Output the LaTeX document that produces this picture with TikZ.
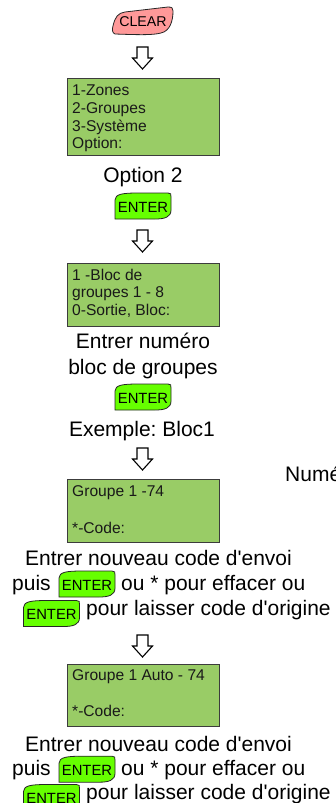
\documentclass[tikz,border=0pt]{standalone}
\usepackage{fontspec}
\setmainfont{Liberation Sans}
\frenchspacing
\definecolor{lcdgreen}{RGB}{153,204,102}
\definecolor{entergreen}{RGB}{102,255,0}
\definecolor{clearpink}{RGB}{255,153,153}
\definecolor{boxline}{RGB}{60,60,60}
\newcommand\apos{\textquotesingle}
\tikzset{
  lcd/.style={draw=boxline, line width=0.9pt, fill=lcdgreen},
  lcdtext/.style={font=\fontsize{15.6}{17.7}\selectfont, anchor=base west, inner sep=0pt, text=black!90},
  maintext/.style={font=\fontsize{21}{25}\selectfont, inner sep=0pt, text=black},
  keyline/.style={draw=black!85, line width=0.8pt},
  keytext/.style={font=\fontsize{14.8}{16}\selectfont, inner sep=0pt, anchor=base, text=black},
  arrowline/.style={draw=black, line width=1.1pt, fill=white, line join=miter},
  hollow arrow/.pic={\path[arrowline] (-5.5,0) -- (5.5,0) -- (5.5,11) -- (10,11) -- (0,22) -- (-10,11) -- (-5.5,11) -- cycle;}
}
\newcommand\enterkey[3]{%
  \begin{scope}[shift={(#2,#3)}]
    \path[keyline, fill=entergreen] (-28,13) -- (-28,-6) .. controls (-28,-12) and (-20,-13) .. (-5,-13) -- (25,-13) .. controls (28,-13) and (28,-12) .. (28,-9) -- (28,4) .. controls (28,11) and (22,13) .. (12,13) -- cycle;
    \node[keytext] (#1) at (0,6) {ENTER};
  \end{scope}}
\begin{document}
\begin{tikzpicture}[x=1pt,y=-1pt]
\useasboundingbox (0,0) rectangle (335,803);
\clip (0,0) rectangle (335,803);

% CLEAR key
\begin{scope}[shift={(143,21)}]
  \path[keyline, fill=clearpink] (-28,13) .. controls (-31,12) and (-31,8) .. (-30,5) .. controls (-28,-4) and (-25,-8) .. (-18,-9) -- (25,-14) .. controls (29,-14) and (30,-13) .. (30,-10) .. controls (30,0) and (27,10) .. (18,12) .. controls (10,14) and (0,14) .. (-28,13) -- cycle;
  \node[keytext, font=\fontsize{14.2}{16}\selectfont] (clear) at (0,6) {CLEAR};
\end{scope}

\pic (a1) at (142.5,47) {hollow arrow};

% Box 1
\draw[lcd] (67,78) rectangle (219,155);
\node[lcdtext] (b1l1) at (72,95.7) {1-Zones};
\node[lcdtext] (b1l2) at (72,113.4) {2-Groupes};
\node[lcdtext] (b1l3) at (72,131) {3-Système};
\node[lcdtext] (b1l4) at (72,148.6) {Option:};

\node[maintext, anchor=base] (opt2) at (143,182.7) {Option 2};
\enterkey{enter1}{143}{206}

\pic (a2) at (142.5,230) {hollow arrow};

% Box 2
\draw[lcd] (67,263) rectangle (219,326);
\node[lcdtext] (b2l1) at (72,280) {1 -Bloc de};
\node[lcdtext] (b2l2) at (72,297.7) {groupes 1 - 8};
\node[lcdtext] (b2l3) at (72,315.5) {0-Sortie, Bloc:};

\node[maintext, anchor=base] (num1) at (143,348) {Entrer numéro};
\node[maintext, anchor=base] (num2) at (143,374) {bloc de groupes};
\enterkey{enter2}{143}{397}
\node[maintext, anchor=base] (ex) at (142,436.7) {Exemple: Bloc1};

\pic (a3) at (142.5,448) {hollow arrow};

\node[maintext, anchor=base west] (nume) at (285,481.7) {Numéro};

% Box 3
\draw[lcd] (67,479) rectangle (219,542);
\node[lcdtext] (b3l1) at (72,496) {Groupe 1 -74};
\node[lcdtext] (b3l2) at (72,533.3) {*-Code:};

% Text block 1
\node[maintext, anchor=base west] (t1l1) at (25,565.7) {Entrer nouveau code d\apos envoi};
\node[maintext, anchor=base west] (t1puis) at (12,590.7) {puis};
\enterkey{enter3}{87}{584}
\node[maintext, anchor=base west] (t1ou) at (121,590.7) {ou * pour effacer ou};
\enterkey{enter4}{51.5}{613.5}
\node[maintext, anchor=base west] (t1l3) at (86,615.7) {pour laisser code d\apos origine};

\pic (a4) at (142.5,635) {hollow arrow};

% Box 4
\draw[lcd] (67,664) rectangle (219,726);
\node[lcdtext] (b4l1) at (72,680) {Groupe 1 Auto - 74};
\node[lcdtext] (b4l2) at (72,716.7) {*-Code:};

% Text block 2
\node[maintext, anchor=base west] (t2l1) at (25,751.7) {Entrer nouveau code d\apos envoi};
\node[maintext, anchor=base west] (t2puis) at (12,775) {puis};
\enterkey{enter5}{87}{769.2}
\node[maintext, anchor=base west] (t2ou) at (121,775) {ou * pour effacer ou};
\enterkey{enter6}{51.5}{797.5}
\node[maintext, anchor=base west] (t2l3) at (86,799.3) {pour laisser code d\apos origine};
\end{tikzpicture}
\end{document}
